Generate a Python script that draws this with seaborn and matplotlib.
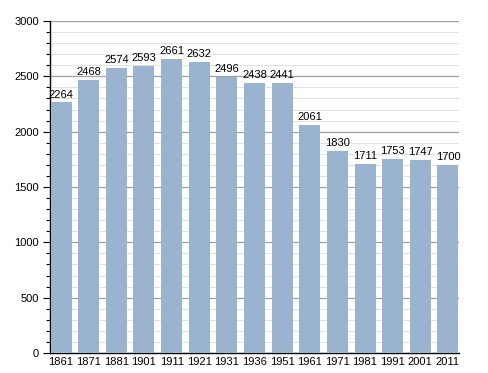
import matplotlib
matplotlib.use("Agg")
import matplotlib.pyplot as plt
import seaborn as sns
import pandas as pd
from matplotlib.ticker import MultipleLocator

years = ["1861", "1871", "1881", "1901", "1911", "1921", "1931", "1936",
         "1951", "1961", "1971", "1981", "1991", "2001", "2011"]
population = [2264, 2468, 2574, 2593, 2661, 2632, 2496, 2438,
              2441, 2061, 1830, 1711, 1753, 1747, 1700]

df = pd.DataFrame({"year": years, "pop": population})

sns.set_style("white")
plt.rcParams['font.family'] = ['Liberation Sans', 'DejaVu Sans']
plt.rcParams['text.color'] = 'black'
plt.rcParams['xtick.color'] = 'black'
plt.rcParams['ytick.color'] = 'black'

fig = plt.figure(figsize=(4.88, 3.73), dpi=100)
ax = fig.add_axes([0.1025, 0.0536, 0.838, 0.89])

sns.barplot(data=df, x="year", y="pop", color="#9ab3cf", saturation=1,
            width=0.76, linewidth=0, edgecolor="none", ax=ax, zorder=3)

ax.set_ylim(0, 3000)
ax.set_xlim(-0.4, len(years) - 1 + 0.4)
ax.yaxis.set_major_locator(MultipleLocator(500))
ax.yaxis.set_minor_locator(MultipleLocator(100))
ax.grid(which="major", axis="y", color="#a0a0a0", linewidth=0.9, zorder=0)
ax.grid(which="minor", axis="y", color="#e2e2e2", linewidth=0.8, zorder=0)
ax.set_axisbelow(True)

for s in ["top", "right"]:
    ax.spines[s].set_visible(False)
ax.spines["left"].set_color("black")
ax.spines["bottom"].set_color("black")
ax.spines["left"].set_linewidth(1.0)
ax.spines["bottom"].set_linewidth(1.0)

ax.tick_params(axis="y", which="major", direction="out", length=5, width=0.8,
               labelsize=8, left=True, color="black", labelcolor="black", pad=3)
ax.tick_params(axis="y", which="minor", direction="out", length=3, width=0.8,
               left=True, color="black")
ax.tick_params(axis="x", length=0, labelsize=8, pad=3, labelcolor="black")
ax.set_xlabel("")
ax.set_ylabel("")

for i, v in enumerate(population):
    ax.text(i, v + 25, str(v), ha="center", va="bottom", fontsize=8,
            color="black", zorder=4)

fig.savefig("out.png", dpi=100)
